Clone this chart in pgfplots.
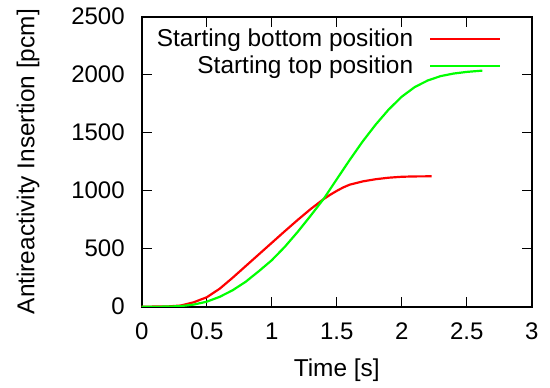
\documentclass[border=0pt]{standalone}
\usepackage{pgfplots}
\pgfplotsset{compat=1.18}
\usepackage{fontspec}
\setmainfont{Liberation Sans}
\begin{document}
\begin{tikzpicture}
\begin{axis}[
  scale only axis,
  width=195bp, height=145bp,
  xmin=0, xmax=3, ymin=0, ymax=2500,
  xtick={0,0.5,...,3}, ytick={0,500,...,2500},
  tick align=inside,
  major tick length=5bp,
  axis line style={line width=0.9pt},
  tick style={line width=0.7pt, black},
  font=\fontsize{12bp}{14bp}\selectfont,
  every tick label/.append style={font=\fontsize{12bp}{14bp}\selectfont},
  label style={font=\fontsize{12.2bp}{14bp}\selectfont},
  /pgf/number format/assume math mode=true,
  /pgf/number format/1000 sep={},
  xticklabel={\pgfmathprintnumber{\tick}},
  yticklabel={\pgfmathprintnumber{\tick}},
  xticklabel style={yshift=-4.5bp},
  yticklabel style={xshift=-5bp},
  xlabel={Time [s]},
  ylabel={Antireactivity Insertion [pcm]},
  xlabel style={at={(axis description cs:0.5,-0.218)}, anchor=center},
  ylabel style={at={(axis description cs:-0.2915,0.5)}, anchor=center},
  legend style={at={(rel axis cs:1,1)}, anchor=north east, xshift=-12bp, yshift=-2bp,
    draw=none, fill=none, font=\fontsize{12.2bp}{14bp}\selectfont,
    row sep=-1bp,
    /tikz/every odd column/.append style={column sep=6bp}},
  legend cell align=right,
  legend plot pos=right,
  legend image code/.code={\draw[#1] (0bp,0bp) -- (35bp,0bp);},
]
\addplot[red, line width=1.1pt] coordinates {
(0,0)(0.2,2)(0.3,10)(0.4,38)(0.5,81)(0.6,155)(0.7,250)(0.8,350)(0.9,450)(1.0,550)
(1.1,650)(1.2,748)(1.3,842)(1.4,928)(1.45,965)(1.5,998)(1.55,1028)(1.6,1052)
(1.7,1080)(1.8,1099)(1.9,1112)(2.0,1120)(2.1,1123)(2.23,1124)};
\addlegendentry{Starting bottom position}
\addplot[green, line width=1.1pt] coordinates {
(0,0)(0.2,1)(0.3,5)(0.4,18)(0.5,43)(0.6,85)(0.7,142)(0.8,215)(0.9,305)(1.0,400)
(1.1,515)(1.2,645)(1.3,785)(1.4,930)(1.5,1098)(1.6,1265)(1.7,1425)(1.8,1570)
(1.9,1700)(2.0,1810)(2.1,1893)(2.2,1950)(2.3,1988)(2.4,2010)(2.5,2024)(2.62,2035)};
\addlegendentry{Starting top position}
\end{axis}
\path (current axis.south west) ++(-70.85bp,-39.15bp);
\path (current axis.north east) ++(9.15bp,8.35bp);
\end{tikzpicture}
\end{document}
